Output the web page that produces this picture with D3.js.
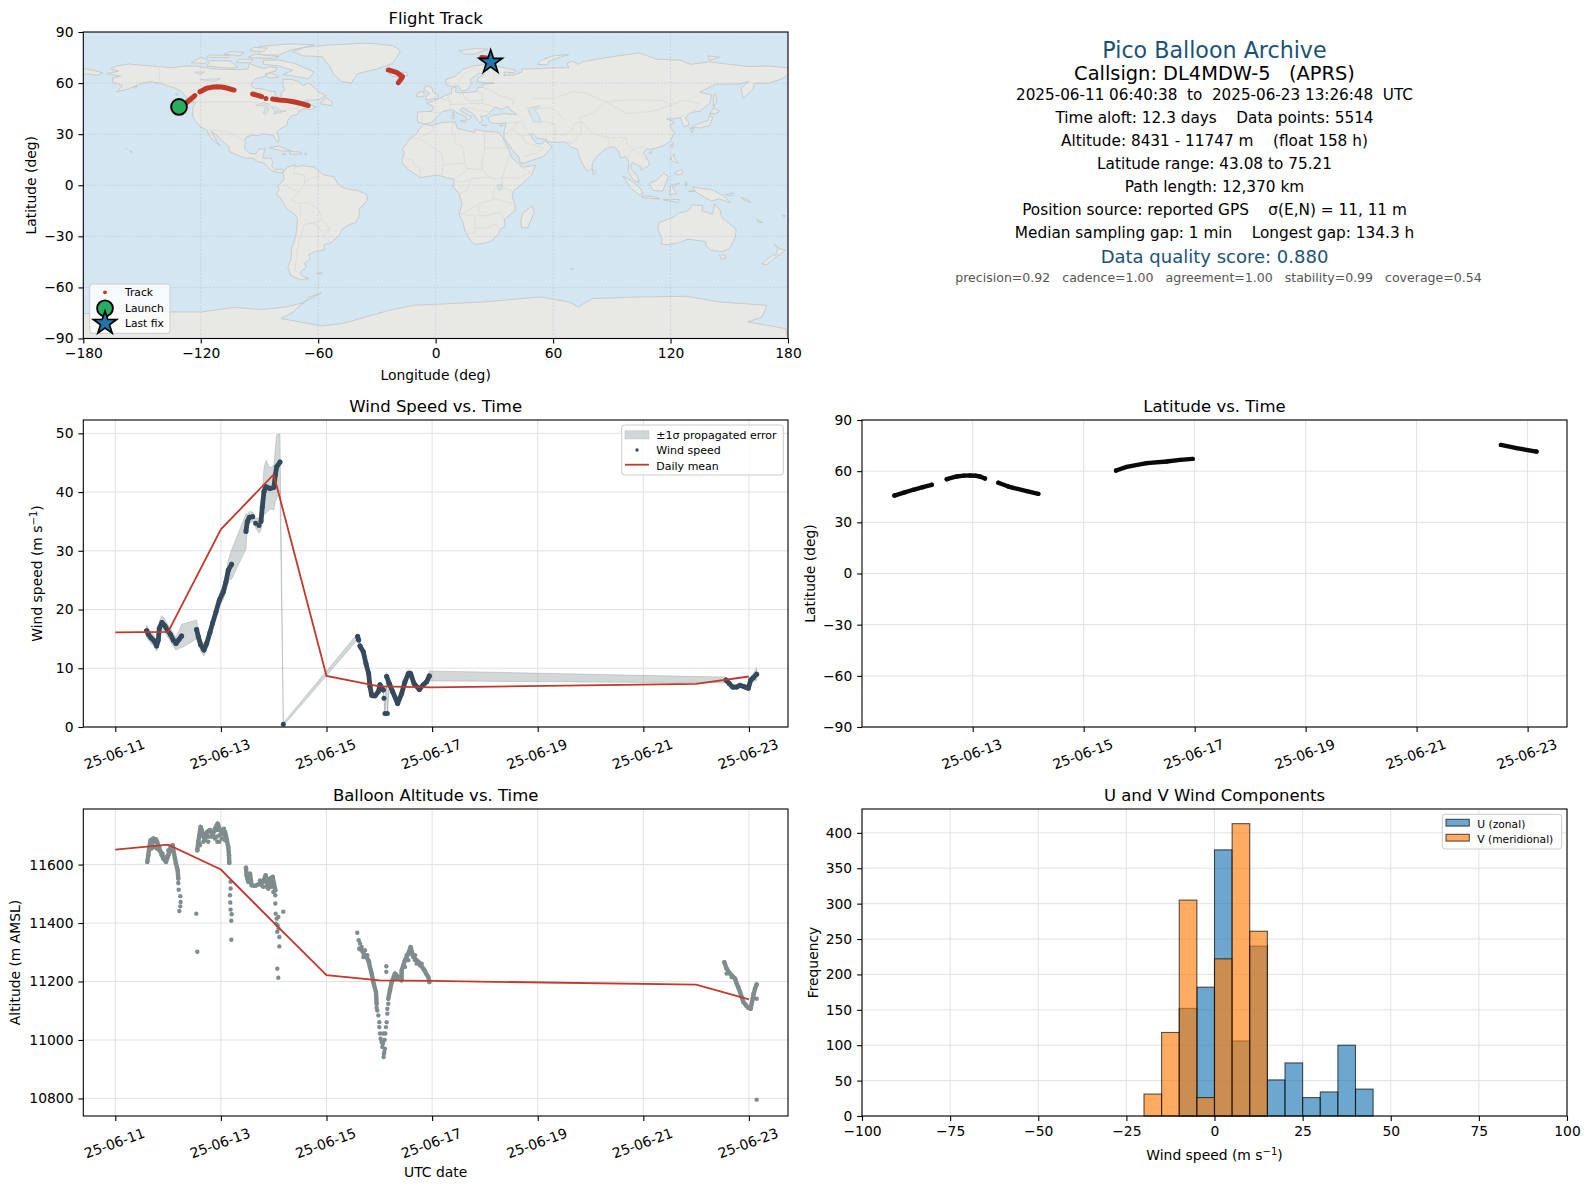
<!DOCTYPE html>
<html><head><meta charset="utf-8">
<script src="https://cdn.jsdelivr.net/npm/d3@7"></script>
<style>html,body{margin:0;padding:0;background:#fff}svg{display:block;font-family:"DejaVu Sans",sans-serif}</style>
</head><body><svg id="c" width="1590" height="1189"></svg>
<script>
// ---------- land outlines [lon, lat] ----------
const northAmerica=[[-168,65.6],[-164,66.5],[-162,67],[-166,68.5],[-163,70],[-157,71.2],[-150,70.5],[-141,69.7],[-135,69],[-128,70],[-122,70],[-115,68.5],[-108,68],[-100,68],[-96,68.2],[-95,71.5],[-92,70],[-88,68.5],[-85,69.5],[-81,69],[-82,67],[-87,65.5],[-87,64],[-92,62.5],[-94,60],[-94.5,58.7],[-92.5,57],[-88,56.5],[-85,55.3],[-82,55],[-82,53],[-80,51.2],[-79,52],[-79,54.5],[-77,56],[-78,58.5],[-78,62.3],[-73,62],[-70,61],[-68,58.5],[-65,60],[-62,57.5],[-60,55],[-56,52.5],[-60,50.2],[-66,50],[-69,48.5],[-65,49],[-65,47.5],[-61,46],[-64,44.5],[-67,45],[-70,43.5],[-70.5,41.7],[-74,40.5],[-75.5,38],[-76,35],[-79,33.5],[-81,31.5],[-80,27],[-80.5,25.2],[-82,27],[-83,29.5],[-85,29.7],[-89,30.2],[-90,29],[-94,29.5],[-97,28],[-97.5,24],[-97.5,21.5],[-95,18.7],[-91.5,18.5],[-90.5,21],[-87,21.5],[-88,18],[-88.5,16],[-84,15.8],[-83.3,14],[-83.7,11],[-82,9],[-79.5,9.5],[-77.3,8.6],[-78,7.5],[-80,7.3],[-81.5,7.8],[-83,8.3],[-85.5,10],[-87.5,13],[-91,14],[-94,16],[-97,15.8],[-102,18],[-105.5,20],[-105.5,22.5],[-109,26],[-112.5,30],[-114.7,31.7],[-113,28],[-110,23.2],[-112,25],[-115,28],[-117,32.5],[-120.5,34.5],[-122.5,37.5],[-124.2,40.5],[-124,46],[-122.5,48.5],[-125,50],[-128,52.5],[-130,55],[-133,57],[-137,58.5],[-141,60],[-146,60.8],[-150,60],[-152,59],[-154,58],[-158,56.2],[-163,54.8],[-160,58.5],[-165,60.5],[-165,63],[-161,64],[-168,65.6]];
const greenland=[[-73,78.5],[-67,81],[-55,82.3],[-35,83.5],[-22,82],[-18,79],[-20,75],[-22,71.5],[-30,68.3],[-40,65.5],[-43,60],[-48,61],[-52,65],[-54,69.5],[-58,75.5],[-68,76],[-73,78.5]];
const arcticIslands=[[[-80,73.5],[-72,71.5],[-67,69],[-62,66.5],[-65,62.5],[-72,64],[-78,65],[-73,67.5],[-80,70],[-88,71],[-88,73.5]],[[-117,70],[-105,68.7],[-101,69.5],[-105,73],[-115,73.2]],[[-90,76.5],[-80,76.5],[-75,79],[-62,82.5],[-75,83],[-90,81.5]],[[-125,72],[-118,71.5],[-116,73.5],[-120,75]],[[-96,75],[-82,74.5],[-80,75.5],[-92,77]],[[-117,75.2],[-106,75],[-105,76.3],[-116,76.5]],[[-95,79],[-88,78.5],[-86,80.5],[-93,81]],[[-102,72],[-95,72],[-93,74],[-100,74]],[[-84,66],[-80,63.5],[-85,63],[-87,64.5]],[[-108,77],[-100,76],[-98,78],[-105,78.5]]];
const caribbeanAndPacificNA=[[[-59,47.8],[-53,46.7],[-53,49],[-56,51.5]],[[-128,50.7],[-125,50],[-123.5,48.4],[-126,49]],[[-85,22],[-80,23],[-74,20.2],[-78,20]],[[-74.5,19.8],[-69,19.5],[-68.5,18.3],[-74.5,18.2]],[[-78.3,18.4],[-76.3,18.2],[-77,17.8]],[[-67,18.5],[-65.7,18.3],[-66.5,18]],[[-156,20.2],[-155,19.8],[-155.6,19]],[[-158.2,21.6],[-157.7,21.4],[-158,21.3]],[[-133,54],[-131.5,53.8],[-132,52.5]],[[-154.5,57.8],[-152.5,58],[-153.5,57]]];
const southAmerica=[[-77.3,8.6],[-75.5,10.8],[-72,12],[-71.5,10.8],[-68,11.5],[-62,10.7],[-60,8.5],[-57,6],[-52,5],[-50,1],[-48,-1],[-44,-2.5],[-40,-3],[-35,-5.5],[-35,-9],[-39,-14],[-39,-18],[-41,-22],[-44,-23],[-48,-26],[-49,-29],[-53,-33.5],[-57,-35],[-57,-38],[-62,-39],[-65,-41],[-64,-43],[-67,-46],[-66,-48],[-69,-51],[-68.5,-53],[-65,-54.8],[-69,-55.5],[-74,-53],[-75.5,-48],[-74,-44],[-73.5,-37],[-71.5,-30],[-70.5,-20],[-72,-17],[-76,-14],[-79,-8],[-81.3,-5],[-80,-2.5],[-80.5,0],[-78.5,2],[-77.5,4],[-78,7.5]];
const falklands=[[-61,-51.7],[-58,-51.4],[-59,-52.3]];
const africa=[[-6,35.8],[-2,35],[3,36.8],[10,37.3],[11,33.5],[15,32.3],[20,31],[20,32.8],[25,31.7],[32,31.2],[34.3,28],[36,24],[37.3,21],[39,16],[43,12],[45,10.7],[51,11.8],[49,6],[44,0.5],[40,-3],[39,-7],[40.5,-11],[40.5,-15],[35,-20],[35.5,-24],[32.8,-26],[32,-29],[28,-33],[25,-34],[20,-34.8],[18,-33],[15,-27],[14,-22],[12,-17],[13.5,-11],[12,-5],[9,-1],[9.5,3.5],[6,4.3],[1,6],[-4,5.2],[-8,4.5],[-13,8.5],[-16.5,12],[-17.3,14.7],[-16,19],[-17,21],[-13,27.7],[-10,30],[-8,33.5]];
const madagascar=[[49.3,-12],[50.3,-16],[47,-25],[44,-25],[43.5,-21],[44.5,-16.5]];
const eurasia=[[-9,37],[-9.5,38.8],[-9,43],[-2,43.4],[-1,46],[-4.5,48.4],[-1,49.5],[2,51],[4.5,52.5],[8,54],[8.2,57],[10.5,57.5],[10,55],[12,54.2],[18,54.7],[21,55],[21.5,57.5],[24,57.5],[24,59.3],[30,60],[25,60.2],[21.5,60.7],[21.5,63],[25,65.2],[22,65.8],[17.5,62],[18.5,60],[16.5,56.5],[14.5,55.5],[13,55.5],[11.5,58.5],[8,58],[5.5,59],[5,62],[10,64],[14,68],[19,70],[25,71],[31,70],[41,67.5],[40,66],[35,66.5],[35,64.5],[40,64.7],[44,66.5],[44,68.3],[54,68.5],[60,69],[68,69],[67,71.5],[70,73],[73,71],[75,72.5],[80,73.5],[90,75.5],[104,77.7],[113,74],[125,73.5],[130,71],[140,72.5],[150,71],[160,69.7],[170,70],[180,69],[180,65],[177,62.5],[170,60],[163,59.8],[162,56],[157,51],[156,57],[160,61],[155,59.5],[143,59.3],[135,54.7],[141,53],[140,48],[135,43.5],[130,42.5],[127.5,39.5],[129.3,37],[129,35],[126.5,34.5],[126,37],[125,39.7],[121.5,39],[118,39],[122,37],[119.5,35],[122,31],[120,26],[116,23],[110,21],[108,21.5],[106,19],[109,14],[109,11.5],[105,8.7],[105,10.5],[100.5,13.5],[99.5,10],[103,5.5],[104,1.5],[101,3],[98.5,8],[98.5,14],[97,17],[94.5,16],[93.5,20],[91,22.7],[87,21.5],[82,16.5],[80,13],[80,10],[77.5,8],[75,12.5],[73,18],[72.5,21],[69,22.5],[66.5,25.3],[61,25.2],[57,25.7],[56.5,27],[52,27.5],[50,30],[48,30],[50,26.5],[51.5,24.5],[54,24.2],[56,26],[59.5,22.5],[55,17],[52,15.7],[45,13],[43.2,13],[42.5,16.5],[39,21],[36,26],[35,28],[34.9,31.5],[36,36.7],[32,36.2],[28,36.7],[26.5,39.5],[29,41.1],[35,42],[41.5,41.5],[38,44.5],[37,46.5],[33.5,44.5],[30.5,46],[28,43],[26,40.8],[23,40.5],[24,38],[22.5,36.5],[19.5,41.5],[18.5,42.5],[13.5,45.7],[12.5,44],[16,41.5],[18.5,40],[16,38],[15.8,40],[11,42.5],[8.5,44.4],[3.5,43.3],[0,39.5],[-2,36.8],[-5.5,36]];
const chukotkaWrap=[[-180,68.5],[-175,67.5],[-170,66],[-173,64.5],[-178,65.5],[-180,65]];
const europeIslands=[[[-5,50],[1,51.2],[1.7,52.7],[-1.5,55],[-2,57.5],[-5,58.6],[-6,56],[-3,54],[-5,52]],[[-10,52],[-6,52],[-6,55],[-9,54.5]],[[-24,65.5],[-22,64],[-19,63.4],[-14,64.5],[-15,66.3],[-22,66.4]],[[12,79],[20,80.3],[27,80],[20,77],[15,77]],[[52,71],[57,70.7],[58,73],[68,76.8],[60,76],[54,73.5]],[[12.5,38],[15.5,38.2],[15,36.7]],[[8.3,41],[9.6,41],[9.5,39],[8.5,39]],[[8.7,43],[9.5,43],[9.2,41.5]],[[23.5,35.5],[26.3,35.2],[24.7,34.9]],[[32.5,35],[34.5,35.6],[33.5,34.7]]];
const asiaIslands=[[[130.8,34],[135,33.7],[140,35],[141.5,40],[140,41],[139,38],[133,35.5]],[[140,42],[142,45.5],[145,43.5],[143,42]],[[130,33.5],[132,33],[131,31]],[[142,46],[143.5,49],[143,54],[142,53]],[[120,23],[121.5,25],[121,22]],[[109,19],[110.5,20],[110,18.5]],[[120,16],[122,18.5],[122,16],[124,13],[121,14]],[[122,7],[125.5,9.5],[126.3,7],[124,6]],[[95.5,5.5],[100,2.5],[104,-1],[106,-5],[104,-5.5],[100,-2]],[[105,-6.5],[111,-6.5],[114.5,-8],[106,-7.5]],[[109,1],[113,3],[116.5,7],[119,5],[117.5,1],[116,-3.5],[111,-3]],[[119.5,-5.5],[120,0],[124.5,1.3],[121,-1],[123,-5]],[[80,9.7],[82,7.5],[80.5,6]],[[127.5,2],[128.5,1],[127.7,-0.5]],[[116,-8.5],[120,-8.3],[125,-8.5],[124,-10],[118,-9]],[[130,-3],[133,-3.5],[129,-3.8]],[[139,76],[145,75.2],[140,73.5]]];
const newGuinea=[[131,-1],[136,-2],[141,-2.6],[147,-6],[150.5,-10.5],[145,-8],[141,-9.2],[138,-7.5],[133,-4]];
const australia=[[114,-22],[113.5,-26],[115.7,-32],[115,-34.3],[118,-35],[123.5,-34],[129,-31.7],[134,-32.5],[138,-33],[138,-35.7],[141,-38.3],[146.5,-39],[150,-37.3],[153,-31],[153.5,-26],[149,-21.5],[146,-19],[145.5,-15],[142.5,-11],[141.5,-17],[136,-15],[136.5,-12],[131,-11.5],[129,-15],[124,-16.5],[122,-18.5],[117,-20.7]];
const pacificIslands=[[[145,-41],[148,-41],[148,-43],[146,-43.5]],[[173,-34.5],[176,-37.5],[178.5,-38],[175.5,-41.5],[174,-39.5],[175,-37]],[[172.7,-40.5],[174.3,-41.7],[171,-45],[169,-46.7],[166.5,-46]],[[148,-5.5],[152,-4.5],[151,-6.2]],[[156,-7],[160,-9],[161,-10.3],[157,-8.5]],[[164,-20],[167,-22],[165,-21.8]],[[177,-17.5],[178.7,-18],[177.5,-18.3]],[[69,-49],[70.5,-49.2],[69.5,-49.8]]];
const antarctica=[[-180,-75.4],[-140.3,-74.4],[-119.8,-74.4],[-102.9,-71.8],[-88.5,-73],[-76.5,-71.5],[-68,-69.1],[-58.4,-63.2],[-64.4,-65.6],[-68,-69.5],[-72.8,-74.4],[-78.9,-78.3],[-69.2,-80.3],[-58.4,-82.6],[-47.6,-81.2],[-35.5,-77.3],[-23.5,-73.4],[-11.4,-70.5],[7.8,-69.5],[24.7,-68.5],[53.6,-65.6],[68,-68.5],[72.8,-71.5],[80,-66.6],[104.1,-65.6],[128.2,-65.2],[144.6,-68.5],[169.2,-70.5],[166.8,-77.3],[159.5,-80.3],[178.8,-84.2],[180,-90],[-180,-90]];
const inlandWaters=[[[47,45],[53,46.8],[51,44],[53,40],[54,37],[50,37.3],[49,40]],[[-92,46.8],[-88,48.7],[-85,47.5],[-86,46.6]],[[-88,42],[-86.5,42],[-85,45.5],[-87,45.5]],[[-84,46],[-81,45.7],[-80,44.5],[-82,43]],[[-83,41.7],[-79,42.8],[-79.5,43.3],[-76.3,43.5],[-79,43.8],[-82,42.5]],[[-120,62],[-110,62.7],[-113,61]],[[-123,66.5],[-118,66.5],[-120,65]],[[31.7,0],[34,0.3],[33.5,-2.5],[32,-2.5]]];
const borderLines=[[[-123,49],[-95,49],[-89,48],[-83,46],[-82.5,42.5],[-79,43],[-75,45],[-71,45],[-68,47.2],[-67,45]],[[-141,69.7],[-141,60]],[[-137,58.5],[-130,55]],[[-117,32.5],[-106.5,31.7],[-97.5,26]],[[-92,14.7],[-91,17.5],[-89,18]],[[-72,12],[-72.5,7],[-67,6],[-67,1],[-70,-4]],[[-78,0.5],[-75,-1],[-70,-4],[-74,-9],[-69,-11],[-69,-17],[-70,-18]],[[-60,8.5],[-60,5],[-64,4],[-67,1]],[[-69,-11],[-65,-10],[-60,-14],[-58,-20],[-54,-26],[-57.5,-30],[-53.5,-33.5]],[[-58,-20],[-62,-22],[-67,-23],[-70,-33],[-72,-50],[-69,-52]],[[-62,-22],[-58,-27],[-54,-26]],[[-2,35],[-1,32],[-9,27.5],[-13,27.7]],[[-13,27.7],[-17,21]],[[-9,27.5],[-5,25],[3,19],[4,12],[3,6]],[[9,37],[8,32],[9.5,30],[10,24],[12,23.5],[14,22.5],[15,13],[14,13]],[[25,31.7],[25,20],[24,15],[22.5,11],[27,5],[31,3.5],[34,4.5],[36,12],[38,18]],[[25,22],[36.8,22]],[[-16.5,16],[-12,15],[-11,12],[-8,10],[-8,4.5]],[[4,12],[14,13],[16,10],[15,7.5],[9.5,4]],[[16,10],[24,9],[24,15]],[[27,5],[18,3.5],[14,2],[9.5,2.3]],[[18,3.5],[16,-3],[12,-5]],[[34,4.5],[41,4],[44,4.8],[48,8],[43,11]],[[34,4.5],[34,-1],[40,-4]],[[31,-1],[29,-4],[30,-8],[40,-11]],[[30,-8],[22,-11],[13,-17]],[[22,-11],[22,-18],[25,-18],[33,-16],[35,-20]],[[12,-17],[20,-18],[20,-28],[16,-28.5]],[[20,-25],[25,-25.5],[31,-22.5],[32,-26]],[[-1,43],[3,42.5]],[[-7,42],[-7,37]],[[2.5,51],[8,49],[7,47.5],[7.5,44]],[[7,53.5],[6,51],[8,49]],[[14,54],[15,51],[18,49.5],[24,50],[24,54],[21,55]],[[7,47.5],[13,47.5],[17,48],[22,48],[24,48],[30,46]],[[13.5,45.7],[19,45],[22,44],[28,43]],[[24,50],[24,48]],[[28,41.8],[26,41.5]],[[24,57.5],[28,56],[32,53],[40,50],[39,47]],[[28,60],[30,63],[29,69.5],[25,69]],[[20,69],[23,66],[24,65.7]],[[12,61],[15,66],[20,69]],[[36,36.7],[42,37],[44,37.5],[44.5,39.5]],[[42,37],[39,33],[35,29.5]],[[39,33],[44,29],[48,29.5]],[[44,37.5],[46,33],[48,30]],[[44,29],[46,25],[52,23],[55,22],[52,19]],[[45,17],[52,19]],[[61,25.2],[61,30],[61,36],[55,37.5]],[[61,30],[66,29.5],[70,33],[71,36.5],[75,37]],[[66.5,25.3],[70,24.5],[74,31],[75,37]],[[50,45],[58,45.5],[62,43.5],[66,37.5]],[[50,51],[61,51],[70,55],[77,54],[87,49]],[[80,42],[74,40],[74,37]],[[87,49],[80,42]],[[87,49],[98,42],[111,43.5],[120,47],[116,49.8],[107,50],[98,50],[87,49]],[[120,47],[127,50],[135,48],[131,43]],[[131,43],[127,41],[124.5,40]],[[75,37],[79,32],[81,30],[88,28],[97,28]],[[88,28],[89,22]],[[97,28],[94,24],[92,21]],[[97,28],[98,24],[101,21],[102,22],[106,22.5],[108,21.5]],[[101,21],[100,20],[98,16],[99,11]],[[101,21],[105,17],[108,15]],[[102.5,12],[107,11]],[[100,6.5],[102,6]]];
// ---------- track ----------
const trackLegs=[[[-127.2,48.5],[-125.2,50.5],[-123,52.6]],[[-120.4,54.9],[-117,57],[-114.5,57.5],[-111.9,57.9],[-109.5,57.7],[-106.8,57.1],[-103,55.9]],[[-93.5,53.6],[-91,52.8],[-88.9,52]],[[-86.7,51]],[[-83.3,50.6],[-80,50.1],[-76.1,49.7],[-72,48.9],[-68,47.8],[-65.1,46.8]],[[-24.2,67.7],[-20,66.3],[-16.9,63.8],[-18,61.8],[-19.1,60.2]],[[23.5,75],[26,74.7]]];
const launchPoint=[-131.1,46.0];
const lastFixPoint=[28.1,72.3];
// ---------- time ticks ----------
const dateTicks=["2025-06-11","2025-06-13","2025-06-15","2025-06-17","2025-06-19","2025-06-21","2025-06-23"];
const t0=Date.UTC(2025,5,11);
// ---------- wind: [days after 06-11 00Z, speed m/s, sigma] ----------
const windLeg1=[[.593,16.4,1],[.625,15.8,1],[.675,15.2,1],[.732,14.7,.9],[.783,13.8,.9],[.814,14.8,1],[.833,16.8,1.1],[.884,17.8,1.2],[.941,17.2,1.1],[.991,16.4,1.1],[1.048,15.7,1.1],[1.098,14.8,1.1],[1.149,14.2,1.1],[1.206,14.9,1.5],[1.256,15.5,2]];
const windLeg2=[[1.54,16.6,1.6],[1.572,15.4,1],[1.616,14,1],[1.679,13.1,1],[1.73,14.2,.9],[1.793,16.1,.8],[1.843,17.7,.8],[1.907,19.6,.9],[1.97,21.6,1],[2.045,23,1.3],[2.096,24.7,1.6],[2.14,26.7,1.7],[2.203,27.7,2.5]];
const windLeg3=[[2.475,33.3,3],[2.5,35,1.2],[2.538,35.7,1],[2.601,35.8,.8]];
const windDots1=[[2.658,34.7,.8],[2.721,34.3,1.3]];
const windLeg4=[[2.759,35,1.5],[2.784,37.5,2.5],[2.816,40.1,4],[2.854,40.9,4.5],[2.929,40.6,3.5],[3.005,40.8,3.8],[3.03,42.9,4.5],[3.056,44.3,5.5],[3.119,45.1,4.8]];
const windDots2=[[3.182,.45,.25]];
const windLeg5=[[4.59,15.4,.5],[4.609,14.8,.5]];
const windLeg6=[[4.634,13.8,.5],[4.697,12.8,.5],[4.747,10.8,.5],[4.798,9.1,.5],[4.823,6.9,.5],[4.855,5.4,.5],[4.918,5.3,.4],[4.981,6,.4],[5.013,7.2,.4],[5.076,6.3,.4]];
const windDots3=[[5.088,4.9,.5],[5.107,2.3,.5],[5.152,2.3,.4]];
const windLeg7=[[5.139,8.6,.7],[5.189,7.4,.5],[5.253,6,.5],[5.347,4,.5],[5.423,5.7,.5],[5.486,7.7,.5],[5.549,9.1,.6],[5.593,9.1,.6],[5.657,7.4,.5],[5.758,6.4,.5],[5.833,7.2,.5],[5.896,7.7,.6],[5.947,8.7,.85]];
const windLeg8=[[11.566,8,.5],[11.629,7.4,.4],[11.692,6.8,.4],[11.768,6.8,.4],[11.831,7.1,.4],[11.926,6.8,.4],[11.989,6.6,.4],[12.033,8,.5],[12.084,8.4,.7],[12.147,9,1.1]];
const windLegs=[windLeg1,windLeg2,windLeg3,windLeg4,windLeg5,windLeg6,windLeg7,windLeg8];
const windIsolated=[...windDots1,...windDots2,...windDots3];
const windMeanDays=[0,1,2,3,4,5,6,11,12];
const windMeanValues=[16.1,16.2,33.65,43,8.7,6.9,6.75,7.35,8.6];
// ---------- latitude ----------
const latLegs=[[[.589,45.7],[.76,47.4],[.931,49.1],[1.1,50.6],[1.261,52]],[[1.532,55.3],[1.712,56.9],[1.84,57.4],[1.952,57.5],[2.05,57.3],[2.132,56.9],[2.222,55.7]],[[2.462,53.2],[2.643,51],[2.733,50.2],[2.973,48.3],[3.183,46.7]],[[4.583,60.4],[4.775,62.5],[5.135,64.7],[5.495,65.7],[5.736,66.6],[5.964,67.2]],[[11.52,75.4],[11.8,73.5],[12.16,71.5]]];
// ---------- altitude ----------
const altLegA=[[.606,11609],[.625,11632],[.644,11660],[.669,11683],[.72,11689],[.77,11686],[.814,11666],[.859,11643],[.909,11621],[.96,11609],[1.004,11632],[1.048,11660],[1.086,11666],[1.111,11638],[1.149,11603],[1.181,11581],[1.193,11552]];
const altLegB=[[1.553,11649],[1.572,11678],[1.591,11700],[1.616,11729],[1.654,11706],[1.698,11683],[1.742,11712],[1.793,11718],[1.843,11700],[1.888,11723],[1.938,11740],[1.982,11718],[2.033,11706],[2.077,11712],[2.109,11686],[2.14,11660],[2.153,11632],[2.159,11606]];
const altLegC=[[2.475,11589],[2.487,11563],[2.519,11541],[2.551,11569],[2.582,11529],[2.645,11527],[2.74,11535],[2.803,11541],[2.847,11563],[2.898,11518],[2.929,11552],[2.98,11558],[3.005,11535],[3.03,11512]];
const altLegD=[[4.621,11312],[4.665,11307],[4.728,11290],[4.792,11273],[4.823,11250],[4.855,11227],[4.886,11198],[4.937,11164],[4.949,11124]];
const altLegD2=[[5.17,11141],[5.202,11170],[5.234,11198],[5.297,11227],[5.36,11215],[5.423,11204],[5.423,11238],[5.486,11273],[5.549,11295],[5.593,11318],[5.644,11284],[5.739,11267],[5.833,11244],[5.928,11215],[5.947,11198]];
const altLegE=[[11.534,11266],[11.578,11244],[11.641,11227],[11.736,11210],[11.768,11193],[11.831,11164],[11.894,11130],[11.989,11110],[12.033,11107],[12.071,11141],[12.115,11175],[12.147,11190]];
const altLegs=[altLegA,altLegB,altLegC,altLegD,altLegD2,altLegE];
const altScatter=[[.657,11655],[.707,11666],[.783,11655],[.833,11649],[.896,11638],[.947,11626],[1.004,11649],[1.067,11649],[1.193,11537],[1.2,11514],[1.231,11492],[1.237,11472],[1.231,11457],[1.212,11441],[1.534,11432],[1.553,11302],[1.932,11678],[1.604,11666],[1.667,11695],[1.761,11695],[1.856,11712],[1.919,11695],[2.014,11689],[2.096,11700],[2.184,11541],[2.184,11518],[2.172,11495],[2.178,11470],[2.184,11446],[2.203,11430],[2.197,11408],[2.197,11343],[3.03,11495],[3.03,11467],[3.037,11432],[3.056,11415],[3.087,11421],[3.182,11439],[3.074,11392],[3.068,11370],[3.106,11352],[3.106,11320],[3.068,11244],[3.087,11213],[2.5,11552],[2.771,11529],[2.866,11546],[2.961,11524],[2.992,11506],[3.043,11398],[3.093,11381],[4.583,11367],[4.609,11341],[4.949,11110],[4.981,11084],[5,11044],[5.025,11004],[5.057,10976],[5.082,10942],[5.107,10970],[5.114,11022],[5.139,11061],[5.152,11107],[5.133,11252],[5.133,11233],[4.697,11284],[4.76,11284],[5.044,10993],[5.095,10959],[5.328,11210],[5.518,11273],[5.581,11301],[5.676,11273],[5.77,11255],[5.884,11227],[5.07,10990],[5.1,11000],[12.147,11141],[12.147,10796]];
const altScatterDense=[[.688,11678],[.751,11678],[.795,11678],[.688,11655],[.751,11660],[.833,11660],[.878,11632],[.941,11615],[.972,11626],[1.023,11643],[1.054,11649],[1.098,11655],[1.13,11621],[1.591,11672],[1.635,11718],[1.667,11678],[1.717,11706],[1.761,11678],[1.824,11695],[1.888,11689],[1.919,11718],[1.97,11700],[1.97,11678],[2.045,11689],[2.077,11683],[2.058,11723],[2.74,11546],[2.803,11524],[2.866,11524],[2.942,11529],[2.98,11541],[2.898,11546],[5.455,11250],[5.486,11250],[5.549,11273],[5.612,11295],[5.676,11290],[5.707,11261],[5.802,11261],[5.865,11238],[5.423,11227],[5.518,11290],[4.634,11330],[4.665,11318],[4.728,11307],[4.773,11290],[4.811,11267],[5,11061],[4.962,11101],[5.013,11022],[5.063,10987],[5.088,10953],[5.076,11022],[5.126,11044],[5.152,11090],[5.17,11124],[11.578,11227],[11.673,11215],[11.8,11181],[11.862,11147],[11.944,11118],[12.084,11158]];
const altMeanDays=[0,1,2,3,4,5,6,11,12];
const altMeanValues=[11651,11668,11583,11401,11222,11204,11202,11189,11139];
// ---------- histogram, 5 m/s bins from -100 to 100 ----------
const histBinStart=-100, histBinWidth=5;
const uCounts=[0,0,0,0,0,0,0,0,0,0,0,0,0,0,0,0,0,0,152,182,376,106,240,51,75,26,34,100,38,0,0,0,0,0,0,0,0,0,0,0];
const vCounts=[0,0,0,0,0,0,0,0,0,0,0,0,0,0,0,0,31,118,305,26,222,413,261,0,0,0,0,0,0,0,0,0,0,0,0,0,0,0,0,0];
// ---------- text block ----------
const infoLines=[
 {t:"Pico Balloon Archive",y:58,s:22.2,c:"#1a5276",x:1214.5},
 {t:"Callsign: DL4MDW-5   (APRS)",y:80,s:19.4,c:"#000",x:1214.5},
 {t:"2025-06-11 06:40:38  to  2025-06-23 13:26:48  UTC",y:100,s:15.2,c:"#000",x:1214.5},
 {t:"Time aloft: 12.3 days    Data points: 5514",y:123,s:15.3,c:"#000",x:1214.5},
 {t:"Altitude: 8431 - 11747 m    (float 158 h)",y:146,s:15.3,c:"#000",x:1214.5},
 {t:"Latitude range: 43.08 to 75.21",y:169,s:15.3,c:"#000",x:1214.5},
 {t:"Path length: 12,370 km",y:192,s:15.3,c:"#000",x:1214.5},
 {t:"Position source: reported GPS    σ(E,N) = 11, 11 m",y:215,s:15.3,c:"#000",x:1214.5},
 {t:"Median sampling gap: 1 min    Longest gap: 134.3 h",y:238,s:15.3,c:"#000",x:1214.5},
 {t:"Data quality score: 0.880",y:263,s:18,c:"#1a5276",x:1214.5},
 {t:"precision=0.92   cadence=1.00   agreement=1.00   stability=0.99   coverage=0.54",y:282,s:12.55,c:"#555",x:1218.5}];

// ---------- drawing ----------
const RED="#c0392b",NAVY="#34495e",GREY="#7f8c8d",GRID="#e2e2e2";
const FS=13.89;
const svg=d3.select("#c");
const defs=svg.append("defs");
const day=d=>new Date(t0+d*864e5);
function panel(id,x,y,w,h){
  const g=svg.append("g").attr("transform",`translate(${x},${y})`);
  defs.append("clipPath").attr("id",id).append("rect").attr("width",w).attr("height",h);
  return {g,w,h,plot:null};
}
function finish(p,xS,yS,xTicks,yTicks,xFmt,yFmt,rot){
  const {g,w,h}=p;
  const ax=d3.axisBottom(xS).tickValues(xTicks).tickFormat(xFmt).tickSize(4.9).tickPadding(4.9).tickSizeOuter(0);
  const ay=d3.axisLeft(yS).tickValues(yTicks).tickFormat(yFmt).tickSize(4.9).tickPadding(4.9).tickSizeOuter(0);
  const gx=g.append("g").attr("transform",`translate(0,${h})`).call(ax);
  const gy=g.append("g").call(ay);
  gx.select(".domain").remove();gy.select(".domain").remove();
  [gx,gy].forEach(a=>{a.selectAll("text").attr("font-size",FS).attr("font-family","DejaVu Sans").attr("fill","#000");a.selectAll("line").attr("stroke","#000").attr("stroke-width",1.1);});
  if(rot){gx.selectAll("text").attr("text-anchor","middle").attr("dy",0).attr("y",0).attr("transform",`translate(-1,28) rotate(-20)`).attr("dominant-baseline","middle");}
  g.append("rect").attr("width",w).attr("height",h).attr("fill","none").attr("stroke","#000").attr("stroke-width",1.1);
}
function grid(p,xS,yS,xTicks,yTicks,o={}){
  const gg=p.g.append("g").attr("stroke",o.c||GRID).attr("stroke-width",o.w||1).attr("stroke-dasharray",o.d||null);
  gg.selectAll(".v").data(xTicks).join("line").attr("x1",d=>xS(d)).attr("x2",d=>xS(d)).attr("y1",0).attr("y2",p.h);
  gg.selectAll(".h").data(yTicks).join("line").attr("y1",d=>yS(d)).attr("y2",d=>yS(d)).attr("x1",0).attr("x2",p.w);
}
function title(p,t){p.g.append("text").attr("x",p.w/2).attr("y",-8).attr("text-anchor","middle").attr("font-size",16.5).text(t);}
function xlabel(p,t,dy){return p.g.append("text").attr("x",p.w/2).attr("y",p.h+dy).attr("text-anchor","middle").attr("font-size",FS).text(t);}
function ylabel(p,t,x){return p.g.append("text").attr("transform",`translate(${x},${p.h/2}) rotate(-90)`).attr("text-anchor","middle").attr("font-size",FS).text(t);}
function unitLabel(sel,pre){sel.text(pre);sel.append("tspan").text(" s");sel.append("tspan").attr("dy",-5).attr("font-size",10).text("−1");sel.append("tspan").attr("dy",5).text(")");}
function legendBox(g,x,y,w,h){g.append("rect").attr("x",x).attr("y",y).attr("width",w).attr("height",h).attr("rx",3).attr("fill","#fff").attr("fill-opacity",.8).attr("stroke","#ccc").attr("stroke-width",1);}
const legT=(g,x,y,t,s=11)=>g.append("text").attr("x",x).attr("y",y).attr("font-size",s).text(t);

// ---- map
(function(){
  const p=panel("cMap",83.3,32,704.7,306.5);
  const x=d3.scaleLinear().domain([-180,180]).range([0,p.w]);
  const y=d3.scaleLinear().domain([-90,90]).range([p.h,0]);
  const lonT=d3.range(-180,181,60),latT=d3.range(-90,91,30);
  const plot=p.g.append("g").attr("clip-path","url(#cMap)");
  plot.append("rect").attr("width",p.w).attr("height",p.h).attr("fill","#d4e6f1");
  const line=d3.line().x(d=>x(d[0])).y(d=>y(d[1]));
  const lands=[northAmerica,greenland,...arcticIslands,...caribbeanAndPacificNA,southAmerica,falklands,africa,madagascar,eurasia,chukotkaWrap,...europeIslands,...asiaIslands,newGuinea,australia,...pacificIslands,antarctica];
  plot.selectAll(".land").data(lands).join("path").attr("d",d=>line(d)+"Z").attr("fill","#e8e8e4").attr("stroke","#c0c4c4").attr("stroke-width",.8).attr("stroke-linejoin","round");
  plot.selectAll(".wat").data(inlandWaters).join("path").attr("d",d=>line(d)+"Z").attr("fill","#d4e6f1").attr("stroke","#c0c4c4").attr("stroke-width",.6);
  plot.selectAll(".bord").data(borderLines).join("path").attr("d",line).attr("fill","none").attr("stroke","#d8d8d4").attr("stroke-width",.7);
  const gl=plot.append("g").attr("stroke","#9aa5ac").attr("stroke-opacity",.35).attr("stroke-width",.7).attr("stroke-dasharray","2,1.5");
  gl.selectAll(".a").data(lonT).join("line").attr("x1",d=>x(d)).attr("x2",d=>x(d)).attr("y1",0).attr("y2",p.h);
  gl.selectAll(".b").data(latT).join("line").attr("y1",d=>y(d)).attr("y2",d=>y(d)).attr("x1",0).attr("x2",p.w);
  plot.selectAll(".leg").data(trackLegs).join("path").attr("d",d=>d.length>1?line(d):`M${x(d[0][0])},${y(d[0][1])}h0`).attr("fill","none").attr("stroke",RED).attr("stroke-width",5).attr("stroke-linecap","round").attr("stroke-linejoin","round");
  plot.append("circle").attr("cx",x(launchPoint[0])).attr("cy",y(launchPoint[1])).attr("r",7.9).attr("fill","#27ae60").attr("stroke","#000").attr("stroke-width",1.9);
  const star=d3.symbol(d3.symbolStar,170);
  plot.append("path").attr("d",star).attr("transform",`translate(${x(lastFixPoint[0])},${y(lastFixPoint[1])})`).attr("fill","#2176ae").attr("stroke","#000").attr("stroke-width",1.6);
  finish(p,x,y,lonT,latT,d3.format("d"),d3.format("d"));
  title(p,"Flight Track");xlabel(p,"Longitude (deg)",41.5);ylabel(p,"Latitude (deg)",-47);
  const L=p.g.append("g");
  legendBox(L,6.4,252,80.3,49.3);
  L.append("circle").attr("cx",21.7).attr("cy",260.3).attr("r",1.9).attr("fill",RED);
  L.append("circle").attr("cx",21.7).attr("cy",276.3).attr("r",7.9).attr("fill","#27ae60").attr("stroke","#000").attr("stroke-width",1.9);
  L.append("path").attr("d",star).attr("transform","translate(21.7,291.3)").attr("fill","#2176ae").attr("stroke","#000").attr("stroke-width",1.6);
  legT(L,41.7,263.7,"Track",10.7);legT(L,41.7,279.7,"Launch",10.7);legT(L,41.7,294.7,"Last fix",10.7);
})();

// ---- info text
svg.append("g").selectAll("text").data(infoLines).join("text").attr("x",d=>d.x).attr("y",d=>d.y).attr("text-anchor","middle").attr("font-size",d=>d.s).attr("fill",d=>d.c).style("white-space","pre").text(d=>d.t);

// ---- wind
(function(){
  const p=panel("cWind",83.3,420,704.7,307);
  const x=d3.scaleUtc().domain([day(-.606),day(12.74)]).range([0,p.w]);
  const y=d3.scaleLinear().domain([0,52.27]).range([p.h,0]);
  const xT=dateTicks.map(d=>new Date(d+"T00:00:00Z")),yT=d3.range(0,51,10);
  grid(p,x,y,xT,yT);
  const plot=p.g.append("g").attr("clip-path","url(#cWind)");
  const all=[...windLegs.flat(),...windIsolated].sort((a,b)=>a[0]-b[0]);
  plot.append("path").datum(all).attr("d",d3.area().x(d=>x(day(d[0]))).y0(d=>y(d[1]-d[2])).y1(d=>y(d[1]+d[2]))).attr("fill",GREY).attr("fill-opacity",.35).attr("stroke",GREY).attr("stroke-opacity",.3).attr("stroke-width",1);
  const l=d3.line().x(d=>x(day(d[0]))).y(d=>y(d[1]));
  plot.selectAll(".s").data(windLegs).join("path").attr("d",l).attr("fill","none").attr("stroke",NAVY).attr("stroke-width",4.8).attr("stroke-linejoin","round").attr("stroke-linecap","round");
  plot.selectAll(".d").data(all).join("circle").attr("cx",d=>x(day(d[0]))).attr("cy",d=>y(d[1])).attr("r",2.5).attr("fill",NAVY);
  plot.append("path").datum(windMeanDays).attr("d",d3.line().x(d=>x(day(d))).y((d,i)=>y(windMeanValues[i]))).attr("fill","none").attr("stroke",RED).attr("stroke-width",1.8);
  finish(p,x,y,xT,yT,d3.utcFormat("%y-%m-%d"),d3.format("d"),true);
  title(p,"Wind Speed vs. Time");
  unitLabel(ylabel(p,"",-41),"Wind speed (m");
  const L=p.g.append("g");
  legendBox(L,538.4,5,161.6,50);
  L.append("rect").attr("x",541.7).attr("y",10.7).attr("width",24).attr("height",8.3).attr("fill",GREY).attr("fill-opacity",.35).attr("stroke",GREY).attr("stroke-opacity",.2);
  L.append("circle").attr("cx",553.7).attr("cy",30).attr("r",1.7).attr("fill",NAVY);
  L.append("line").attr("x1",541.7).attr("x2",565.7).attr("y1",44.7).attr("y2",44.7).attr("stroke",RED).attr("stroke-width",1.8);
  legT(L,573,19,"±1σ propagated error");legT(L,573,34.3,"Wind speed");legT(L,573,50,"Daily mean");
})();

// ---- latitude
(function(){
  const p=panel("cLat",862,420,705,307);
  const x=d3.scaleUtc().domain([day(.005),day(12.71)]).range([0,p.w]);
  const y=d3.scaleLinear().domain([-90,90]).range([p.h,0]);
  const xT=dateTicks.slice(1).map(d=>new Date(d+"T00:00:00Z")),yT=d3.range(-90,91,30);
  grid(p,x,y,xT,yT);
  const plot=p.g.append("g").attr("clip-path","url(#cLat)");
  const l=d3.line().x(d=>x(day(d[0]))).y(d=>y(d[1]));
  plot.selectAll(".s").data(latLegs).join("path").attr("d",l).attr("fill","none").attr("stroke","#0a0a0a").attr("stroke-width",4.4).attr("stroke-linejoin","round").attr("stroke-linecap","round");
  plot.selectAll(".d").data(latLegs.flat()).join("circle").attr("cx",d=>x(day(d[0]))).attr("cy",d=>y(d[1])).attr("r",2.2).attr("fill","#0a0a0a");
  finish(p,x,y,xT,yT,d3.utcFormat("%y-%m-%d"),d3.format("d"),true);
  title(p,"Latitude vs. Time");ylabel(p,"Latitude (deg)",-47);
})();

// ---- altitude
(function(){
  const p=panel("cAlt",83.3,809,704.7,307);
  const x=d3.scaleUtc().domain([day(-.606),day(12.74)]).range([0,p.w]);
  const y=d3.scaleLinear().domain([10740,11790]).range([p.h,0]);
  const xT=dateTicks.map(d=>new Date(d+"T00:00:00Z")),yT=d3.range(10800,11601,200);
  grid(p,x,y,xT,yT);
  const plot=p.g.append("g").attr("clip-path","url(#cAlt)");
  const l=d3.line().x(d=>x(day(d[0]))).y(d=>y(d[1]));
  plot.selectAll(".s").data(altLegs).join("path").attr("d",l).attr("fill","none").attr("stroke",GREY).attr("stroke-width",4.4).attr("stroke-linejoin","round").attr("stroke-linecap","round");
  plot.selectAll(".d").data([...altLegs.flat(),...altScatter,...altScatterDense]).join("circle").attr("cx",d=>x(day(d[0]))).attr("cy",d=>y(d[1])).attr("r",2.2).attr("fill",GREY);
  plot.append("path").datum(altMeanDays).attr("d",d3.line().x(d=>x(day(d))).y((d,i)=>y(altMeanValues[i]))).attr("fill","none").attr("stroke",RED).attr("stroke-width",1.8);
  finish(p,x,y,xT,yT,d3.utcFormat("%y-%m-%d"),d3.format("d"),true);
  title(p,"Balloon Altitude vs. Time");ylabel(p,"Altitude (m AMSL)",-63);xlabel(p,"UTC date",61);
})();

// ---- histogram
(function(){
  const p=panel("cHist",862,809,705,307);
  const x=d3.scaleLinear().domain([-100,100]).range([0,p.w]);
  const y=d3.scaleLinear().domain([0,433.7]).range([p.h,0]);
  const xT=d3.range(-100,101,25),yT=d3.range(0,401,50);
  grid(p,x,y,xT,yT);
  const bars=(arr,col)=>p.g.append("g").selectAll("rect").data(arr).join("rect")
    .attr("x",(d,i)=>x(histBinStart+i*histBinWidth)).attr("width",()=>x(histBinWidth)-x(0))
    .attr("y",d=>y(d)).attr("height",d=>p.h-y(d)).attr("fill",col).attr("fill-opacity",.65)
    .attr("stroke","#000").attr("stroke-opacity",.65).attr("stroke-width",1.1);
  bars(uCounts,"#1f77b4");bars(vCounts,"#ff7f0e");
  finish(p,x,y,xT,yT,d3.format("d"),d3.format("d"));
  title(p,"U and V Wind Components");
  unitLabel(xlabel(p,"",44),"Wind speed (m");
  ylabel(p,"Frequency",-44);
  const L=p.g.append("g");
  legendBox(L,580.3,5.3,119.4,34.7);
  [["#1f77b4",10.3,"U (zonal)",18.5],["#ff7f0e",25.3,"V (meridional)",33.7]].forEach(([c,yy,t,b])=>{
    L.append("rect").attr("x",584).attr("y",yy).attr("width",23.3).attr("height",6.8).attr("fill",c).attr("fill-opacity",.65).attr("stroke","#000").attr("stroke-opacity",.65).attr("stroke-width",1.1);
    legT(L,615.3,b,t,10.7);
  });
})();
</script></body></html>
